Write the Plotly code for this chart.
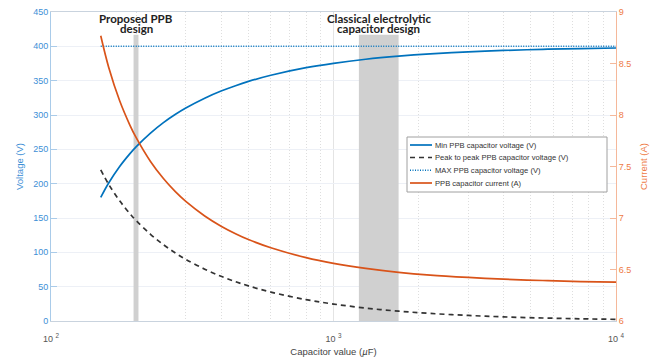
import math
import plotly.graph_objects as go

# Capacitor values (uF)
cap_uF = [150, 160, 175, 190, 200, 225, 250, 275, 300, 350, 400, 450, 500, 600,
          800, 1000, 1300, 1700, 2200, 3000, 4000, 5500, 7500, 10000]
# Min PPB capacitor voltage (V)
v_min = [180.0, 200.9, 225.0, 243.4, 253.6, 273.7, 288.9, 300.7, 310.2, 324.5,
         334.9, 342.7, 348.9, 357.9, 368.9, 375.3, 381.2, 385.7, 389.0, 391.9,
         394.0, 395.6, 396.8, 397.6]
# Peak to peak PPB capacitor voltage (V)
v_pp = [220.0, 199.1, 175.0, 156.6, 146.4, 126.3, 111.1, 99.3, 89.8, 75.5,
        65.1, 57.3, 51.1, 42.1, 31.1, 24.7, 18.8, 14.3, 11.0, 8.1,
        6.0, 4.4, 3.2, 2.4]
# MAX PPB capacitor voltage (V)
v_max = [400] * len(cap_uF)
# PPB capacitor current (A)
i_cap = [8.769, 8.464, 8.138, 7.905, 7.782, 7.549, 7.383, 7.258, 7.161, 7.020,
         6.921, 6.848, 6.791, 6.711, 6.615, 6.560, 6.511, 6.473, 6.446, 6.423,
         6.406, 6.393, 6.383, 6.377]

series_names = ["Min PPB capacitor voltage (V)",
                "Peak to peak PPB capacitor voltage (V)",
                "MAX PPB capacitor voltage (V)",
                "PPB capacitor current (A)"]

# Design regions (uF) and their top (V)
proposed_band = [196, 204]
classical_band = [1230, 1700]
band_top = 417
proposed_label = ["Proposed PPB", "design"]
classical_label = ["Classical electrolytic", "capacitor design"]

BLUE = "#0072BD"
ORANGE = "#D95319"
BLUE_TXT = "#3d8fd6"
ORANGE_TXT = "#ee7a45"
DARK = "#333333"

styles = [dict(color=BLUE, width=1.7),
          dict(color=DARK, width=1.7, dash="5px,4px"),
          dict(color=BLUE, width=1.5, dash="1px,1.5px"),
          dict(color=ORANGE, width=1.7)]

fig = go.Figure()

for band in (proposed_band, classical_band):
    fig.add_trace(go.Scatter(
        x=[band[0], band[1], band[1], band[0], band[0]],
        y=[0, 0, band_top, band_top, 0],
        fill="toself", fillcolor="#d0d0d0", line=dict(width=0),
        mode="lines", showlegend=False, hoverinfo="skip"))

fig.add_trace(go.Scatter(x=cap_uF, y=v_min, mode="lines", line_shape="spline",
                         name=series_names[0], line=styles[0], showlegend=False))
fig.add_trace(go.Scatter(x=cap_uF, y=v_pp, mode="lines", line_shape="spline",
                         name=series_names[1], line=styles[1], showlegend=False))
fig.add_trace(go.Scatter(x=cap_uF, y=v_max, mode="lines",
                         name=series_names[2], line=styles[2], showlegend=False))
fig.add_trace(go.Scatter(x=cap_uF, y=i_cap, mode="lines", line_shape="spline",
                         name=series_names[3], yaxis="y2", line=styles[3], showlegend=False))

fig.update_layout(
    width=660, height=360,
    margin=dict(l=51, r=44, t=12, b=39, autoexpand=False),
    paper_bgcolor="white", plot_bgcolor="white",
    font=dict(family="Liberation Sans", size=9, color="#444"),
    showlegend=False,
    xaxis=dict(
        type="log", range=[2, 4], automargin=False,
        tickvals=[100, 1000, 10000],
        ticktext=["10 <sup>2</sup>", "10 <sup>3</sup>", "10 <sup>4</sup>"],
        tickfont=dict(family="Liberation Sans", size=9, color="#555"),
        ticklabelstandoff=9,
        showgrid=True, gridcolor="#e4e4e4", gridwidth=1,
        minor=dict(dtick="D1", showgrid=True, gridcolor="#dedede",
                   griddash="1px,2px", gridwidth=1),
        showline=True, linecolor="#c9d3de", linewidth=1, mirror=True,
        ticks="", zeroline=False,
        title=dict(text="Capacitor value (<i>µ</i>F)", standoff=5,
                   font=dict(family="Liberation Sans", size=9.5, color="#444")),
    ),
    yaxis=dict(
        range=[0, 450], dtick=50, automargin=False,
        tickfont=dict(family="Liberation Sans", size=9, color=BLUE_TXT),
        showgrid=True, gridcolor="#edf0f6", gridwidth=1,
        showline=True, linecolor="#a9cbe9", linewidth=1,
        ticks="inside", ticklen=6, tickcolor="#a9cbe9",
        zeroline=False,
        title=dict(text="Voltage (V)", standoff=7,
                   font=dict(family="Liberation Sans", size=9.5, color=BLUE_TXT)),
    ),
    yaxis2=dict(
        overlaying="y", side="right", automargin=False,
        range=[6, 9], dtick=0.5,
        tickfont=dict(family="Liberation Sans", size=9, color=ORANGE_TXT),
        showgrid=False,
        showline=True, linecolor="#f5b89a", linewidth=1,
        ticks="inside", ticklen=6, tickcolor="#f5b89a",
        zeroline=False,
        title=dict(text="Current (A)", standoff=10,
                   font=dict(family="Liberation Sans", size=9.5, color=ORANGE_TXT)),
    ),
)

def xp(px):
    return (px - 51) / 565

def yp(py):
    return (321 - py) / 309

# Design labels
ann_font = dict(family="Lato", size=11.5, color="#222")
for center, lines in ((200, proposed_label),
                      (math.sqrt(classical_band[0] * classical_band[1]), classical_label)):
    for k, t in enumerate(lines):
        fig.add_annotation(x=math.log10(center), y=yp(18.5 + k * 10), xref="x", yref="paper",
                           yanchor="middle", text=f"<b>{t}</b>", showarrow=False, font=ann_font)

# Manual legend (box, samples, labels)
fig.add_shape(type="rect", xref="paper", yref="paper",
              x0=xp(407), x1=xp(607), y0=yp(192), y1=yp(137),
              line=dict(color="#a0a0a0", width=1), fillcolor="white", layer="above")
row_y = [145, 157.5, 170.3, 183]
for k, name in enumerate(series_names):
    st = styles[k]
    fig.add_shape(type="line", xref="paper", yref="paper",
                  x0=xp(410), x1=xp(432), y0=yp(row_y[k]), y1=yp(row_y[k]),
                  line=dict(color=st["color"], width=st["width"], dash=st.get("dash", "solid")),
                  layer="above")
    fig.add_annotation(x=xp(433), y=yp(row_y[k]), xref="paper", yref="paper",
                       xanchor="left", yanchor="middle", text=name, showarrow=False,
                       font=dict(family="Liberation Sans", size=7.6, color="#333"))

fig.write_html("out.html")
